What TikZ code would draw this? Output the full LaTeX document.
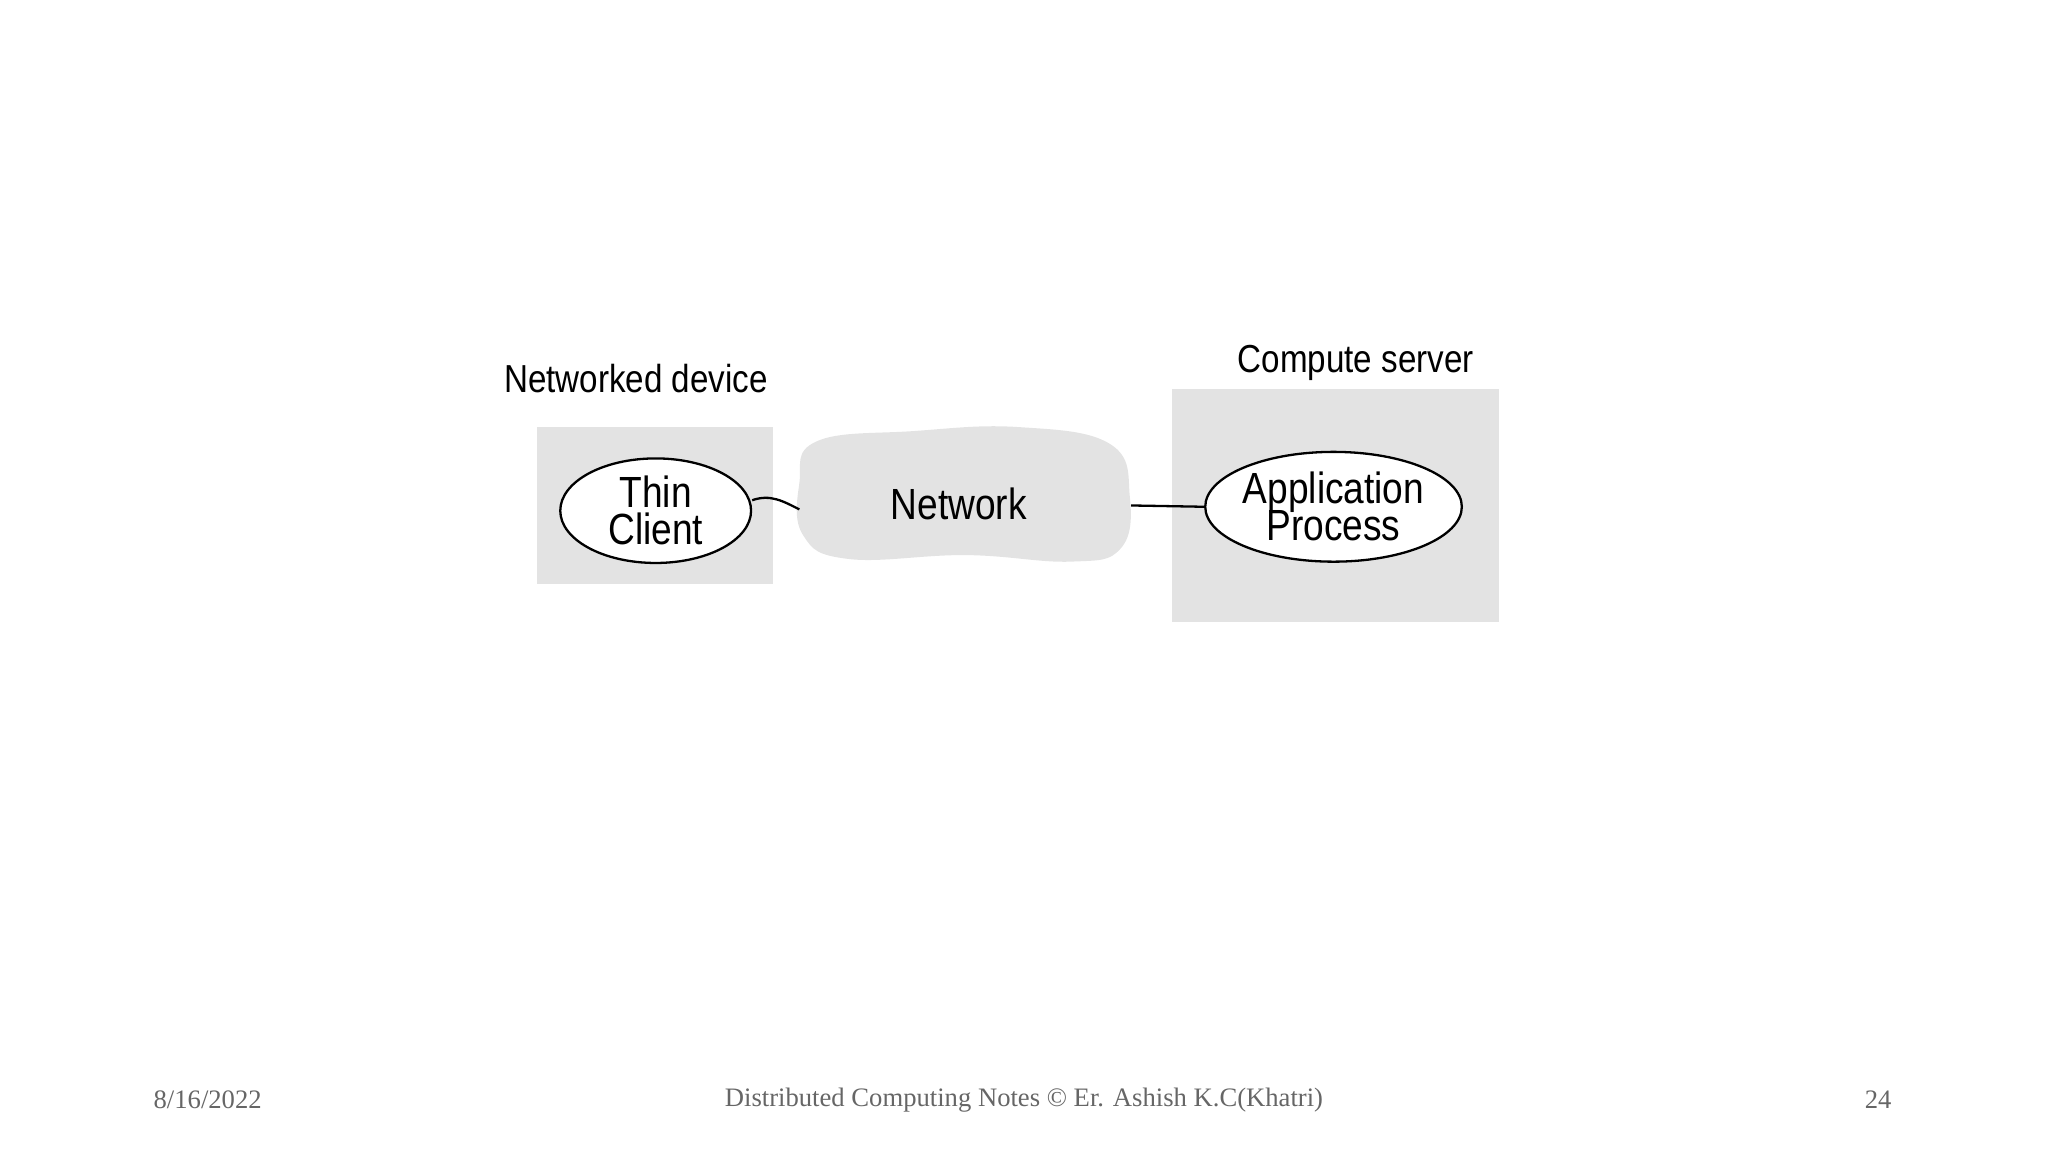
\documentclass[tikz,border=0pt]{standalone}
\usepackage{fontspec}
\setmainfont{Liberation Sans}
\newfontfamily\footfont{Liberation Serif}
\tikzset{
  px/.style={x=0.01cm,y=-0.01cm},
  boxbg/.style={fill=black!11,draw=none},
  proc/.style={ellipse,draw=black,fill=white,line width=0.5pt,inner sep=0pt,align=center,font=\fontsize{9.5pt}{9pt}\selectfont},
  lbl/.style={font=\fontsize{8.5pt}{10pt}\selectfont},
  foot/.style={font=\footfont\fontsize{5.8pt}{7pt}\selectfont,text=black!60},
  conn/.style={draw=black,line width=0.5pt}
}
\usetikzlibrary{shapes.geometric}
\begin{document}
\begin{tikzpicture}[px]
\useasboundingbox (0,0) rectangle (1568,882);
\fill[boxbg] (411,327) rectangle (592,447);
\fill[boxbg] (897,298) rectangle (1148,476);
\fill[black!11] plot[smooth cycle,tension=0.7] coordinates {(625,338) (700,330) (780,327) (850,340) (865,380) (858,420) (820,430) (740,425) (650,428) (615,410) (612,370)};
\node[lbl,xscale=0.85] (nd) at (487,290) {Networked device};
\node[lbl,xscale=0.85] (cs) at (1038,278) {Compute server};
\node[proc,minimum width=146\pgflinewidth,minimum width=1.46cm,minimum height=0.8cm] (tc) at (502,391) {\scalebox{0.85}[1]{Thin}\\[-1pt]\scalebox{0.85}[1]{Client}};
\node[lbl,font=\fontsize{9.5pt}{10pt}\selectfont] (net) at (734,386) {\scalebox{0.85}[1]{Network}};
\node[proc,minimum width=1.62cm,minimum height=0.84cm] (ap) at (1021,388) {\scalebox{0.85}[1]{Application}\\[-1pt]\scalebox{0.85}[1]{Process}};
\coordinate (nl) at (612,390);
\coordinate (nr) at (866,387);
\draw[conn] (tc.east) ++(0,-8) .. controls (590,378) and (600,384) .. (nl);
\draw[conn] (nr) -- (ap.west);
\node[foot] (d) at (159,842) {8/16/2022};
\node[foot] (t) at (784,842) {Distributed Computing Notes © Er. Ashish K.C(Khatri)};
\node[foot] (p) at (1438,842) {24};
\end{tikzpicture}
\end{document}
